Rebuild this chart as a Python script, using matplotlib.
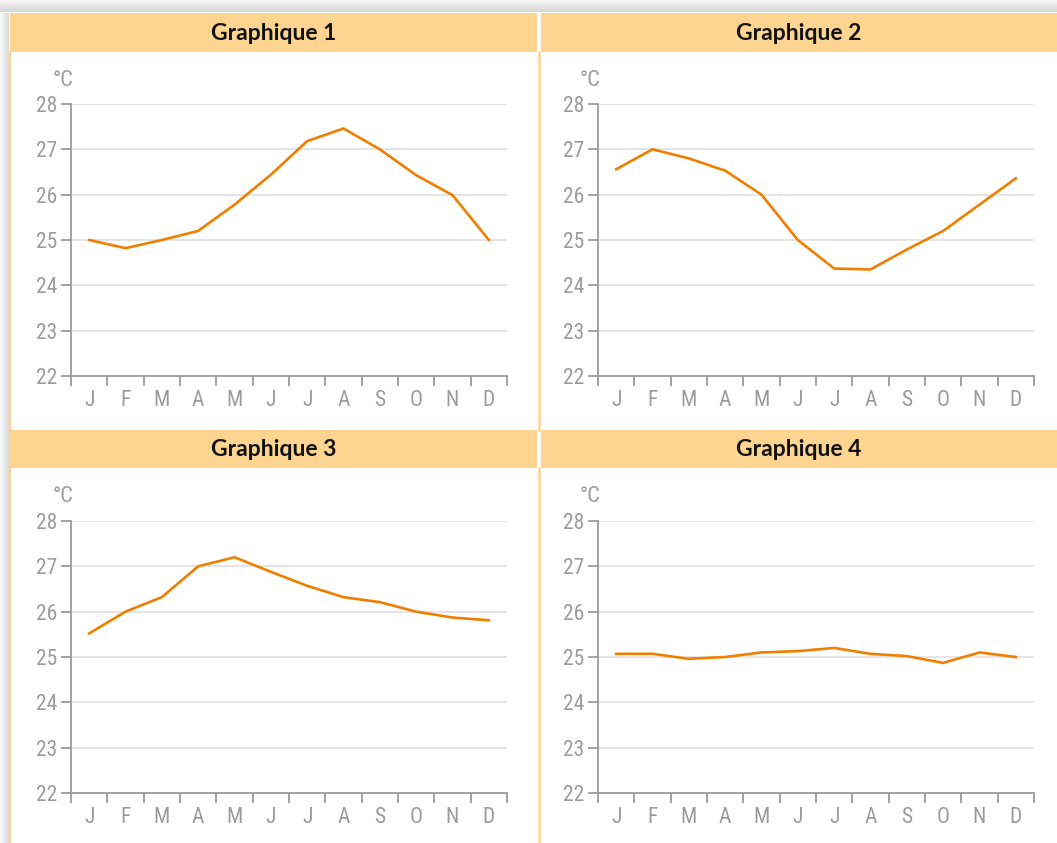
import numpy as np
import matplotlib
matplotlib.use('Agg')
import matplotlib.pyplot as plt
from matplotlib import font_manager
from matplotlib.patches import Rectangle
from matplotlib.lines import Line2D

#Data (degrees C, one value per month)
months = ['J', 'F', 'M', 'A', 'M', 'J', 'J', 'A', 'S', 'O', 'N', 'D']
titles = ['Graphique 1', 'Graphique 2', 'Graphique 3', 'Graphique 4']
temp1 = [25.0, 24.82, 25.0, 25.2, 25.78, 26.44, 27.18, 27.46, 27.0, 26.43, 25.99, 25.0]
temp2 = [26.56, 27.0, 26.8, 26.53, 26.0, 25.0, 24.37, 24.35, 24.79, 25.2, 25.78, 26.36]
temp3 = [25.52, 26.0, 26.32, 27.0, 27.2, 26.88, 26.57, 26.32, 26.21, 26.0, 25.87, 25.81]
temp4 = [25.07, 25.07, 24.96, 25.0, 25.1, 25.13, 25.2, 25.07, 25.02, 24.87, 25.1, 25.0]
yticks = [22, 23, 24, 25, 26, 27, 28]
unit_label = '°C'

W, H = 1057, 843
orange = '#F07F00'
header = '#FDD591'
grey = '#9B9B9B'

installed = set(f.name for f in font_manager.fontManager.ttflist)
def pick(names):
    for n in names:
        if n in installed:
            return n
    return 'DejaVu Sans'

tick_font = pick(['Liberation Sans Narrow', 'Roboto Condensed', 'Roboto', 'Liberation Sans'])
title_font = pick(['Lato', 'Open Sans', 'Noto Sans'])

fig = plt.figure(figsize=(W / 100, H / 100), dpi=100)

def fx(px):
    return px / W

def fy(py):
    return 1 - py / H

def frect(x0, y0, x1, y1, color, z=0, alpha=1.0):
    fig.patches.append(Rectangle((fx(x0), fy(y1)), fx(x1 - x0), (y1 - y0) / H,
                                 transform=fig.transFigure, facecolor=color,
                                 edgecolor='none', zorder=z, alpha=alpha))

#Shadow along top and left edges
for i in range(12):
    g = 0.97 - 0.012 * i
    frect(0, i, W, i + 1.2, (g, g, g))
for i in range(9):
    g = 0.97 - 0.015 * i
    frect(i, 13, i + 1.2, H, (g, g, g))

#Panel background
frect(9, 13, W, H, 'white')

#Header bands
header_rows = [(13, 52), (430, 468)]
header_cols = [(10, 537), (541, W)]
for r, (y0, y1) in enumerate(header_rows):
    for c, (x0, x1) in enumerate(header_cols):
        frect(x0, y0, x1, y1, header, z=1)
        fig.text(fx((x0 + x1) / 2), fy((y0 + y1) / 2 + 1), titles[r * 2 + c],
                 ha='center', va='center', fontsize=16.5, fontweight='bold',
                 family=title_font, color='#111111', zorder=3)

#Thin orange separators
fig.lines.append(Line2D([fx(9.5), fx(9.5)], [fy(52), fy(H)], transform=fig.transFigure,
                        color=header, lw=1.5, zorder=1))
for (y0, y1) in [(52, 430), (468, H)]:
    fig.lines.append(Line2D([fx(539), fx(539)], [fy(y0), fy(y1)], transform=fig.transFigure,
                            color=header, lw=1.8, zorder=1))

series = [temp1, temp2, temp3, temp4]
axes_left = [71, 598, 71, 598]
axes_top = [104, 104, 521, 521]
ax_w, ax_h = 436, 272

xpos = np.arange(len(months))
for k in range(4):
    ax = fig.add_axes([fx(axes_left[k]), fy(axes_top[k] + ax_h), fx(ax_w), ax_h / H])
    ax.set_zorder(5)
    ax.set_facecolor('none')
    ax.plot(xpos, series[k], color=orange, lw=1.9, solid_joinstyle='miter', zorder=3)
    ax.set_xlim(-0.5, 11.5)
    ax.set_ylim(22, 28)
    ax.set_yticks(yticks)
    ax.set_xticks(np.arange(-0.5, 12, 1))
    ax.set_xticklabels([])
    ax.set_xticks(xpos, minor=True)
    ax.set_xticklabels(months, minor=True)
    ax.tick_params(axis='x', which='minor', length=0, pad=10)
    ax.tick_params(axis='x', which='major', length=7, width=1.3, color=grey, direction='out')
    ax.tick_params(axis='y', length=7, width=1.3, color=grey, pad=3)
    for lab in ax.get_yticklabels() + ax.get_xticklabels(minor=True):
        lab.set_family(tick_font)
        lab.set_fontsize(15.5)
        lab.set_color(grey)
    for g in yticks[1:]:
        ax.axhline(g, color='#E3E3E3', lw=1.3, zorder=1)
    for s in ['top', 'right']:
        ax.spines[s].set_visible(False)
    for s in ['left', 'bottom']:
        ax.spines[s].set_color(grey)
        ax.spines[s].set_linewidth(1.3)
        ax.spines[s].set_zorder(2)
    fig.text(fx(axes_left[k] - 18), fy(axes_top[k] - 24), unit_label, ha='left', va='center',
             fontsize=16, family=tick_font, color=grey, zorder=6)

fig.savefig('out.png', dpi=100)
